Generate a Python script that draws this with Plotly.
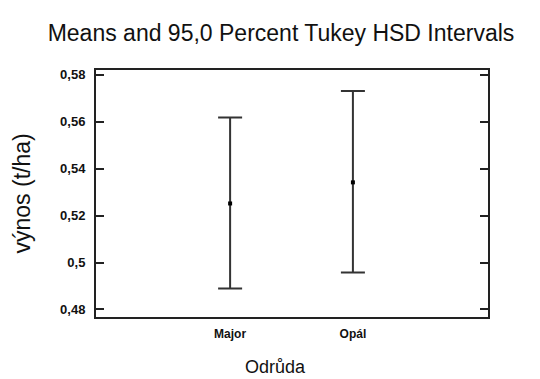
import plotly.graph_objects as go

categories = ["Major", "Opál"]
means = [0.5252, 0.5342]
upper = [0.5618, 0.5732]
lower = [0.4890, 0.4958]

err_plus = [u - m for u, m in zip(upper, means)]
err_minus = [m - l for m, l in zip(means, lower)]

regular = "Liberation Sans, Arial, sans-serif"

fig = go.Figure()
fig.add_trace(go.Scatter(
    x=categories, y=means, mode="markers",
    marker=dict(symbol="square", size=4, color="black"),
    error_y=dict(type="data", symmetric=False, array=err_plus, arrayminus=err_minus,
                 color="#333333", thickness=2, width=12),
    showlegend=False,
))

fig.update_layout(
    width=540, height=379,
    margin=dict(l=96, r=52, t=70, b=62),
    paper_bgcolor="white", plot_bgcolor="white",
    separators=",.",
    title=dict(text="Means and 95,0 Percent Tukey HSD Intervals",
               font=dict(family=regular, size=23, color="#111"),
               xref="container", x=281/540, xanchor="center",
               yref="container", y=1-33/379, yanchor="middle"),
    xaxis=dict(range=[-1.092, 2.1], showline=True, mirror=True, linecolor="#222", linewidth=2,
               showgrid=False, zeroline=False, ticks="", ticklabelstandoff=5,
               tickfont=dict(family=regular, size=12, color="#111", weight="bold")),
    yaxis=dict(range=[0.4768, 0.5821], showline=True, mirror="ticks", linecolor="#222", linewidth=2,
               showgrid=False, zeroline=False, ticks="inside", ticklen=8, tickwidth=2, tickcolor="#222",
               ticklabelstandoff=6,
               tickvals=[0.48, 0.5, 0.52, 0.54, 0.56, 0.58],
               tickfont=dict(family=regular, size=13, color="#111", weight="bold")),
    annotations=[
        dict(text="Odrůda", xref="paper", yref="paper", x=(275-96)/392, y=0, yshift=-50,
             xanchor="center", yanchor="middle", showarrow=False,
             font=dict(family=regular, size=18, color="#111")),
        dict(text="výnos (t/ha)", xref="paper", yref="paper", x=0, xshift=-75, y=0.5,
             xanchor="center", yanchor="middle", textangle=-90, showarrow=False,
             font=dict(family=regular, size=23, color="#111")),
    ],
)

fig.write_html("out.html", config={"displayModeBar": False},
               post_script="document.body.style.margin='0';")
